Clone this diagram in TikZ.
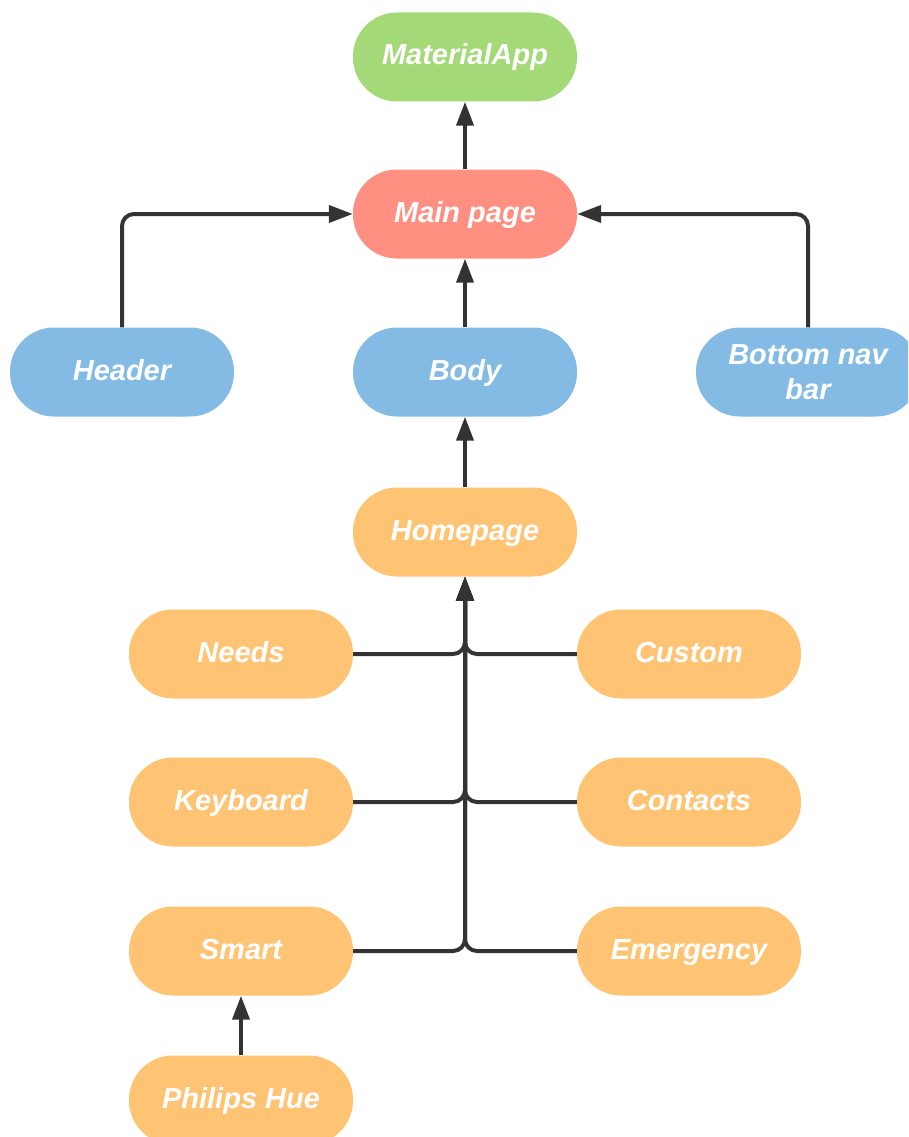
\documentclass[tikz,border=0pt]{standalone}
\usepackage{fontspec}
\setmainfont{Liberation Sans}
\usetikzlibrary{arrows.meta}

\definecolor{appgreen}{RGB}{163,217,119}
\definecolor{pagered}{RGB}{255,143,128}
\definecolor{partblue}{RGB}{131,187,229}
\definecolor{screenorange}{RGB}{255,195,116}
\definecolor{linkgray}{RGB}{51,51,51}

\tikzset{
  pillbase/.style={rectangle, rounded corners=44pt, minimum width=224pt,
    minimum height=89pt, inner sep=0pt, text=white, align=center,
    font=\fontsize{29}{35}\selectfont\bfseries\itshape},
  pill/.style={pillbase, text height=21pt, text depth=5pt},
  link/.style={draw=linkgray, line width=4pt, rounded corners=12pt,
    -{Triangle[length=24pt,width=17pt]}}
}

\begin{document}
\begin{tikzpicture}[x=1pt,y=-1pt]
  \useasboundingbox (0,0) rectangle (908,1137);
  \clip (0,0) rectangle (908,1137);

  % app shell
  \node[pill, fill=appgreen] (app) at (465,57) {MaterialApp};
  \node[pill, fill=pagered] (main) at (465,214) {Main page};

  % page parts
  \node[pill, fill=partblue] (header) at (122,372) {Header};
  \node[pill, fill=partblue] (body) at (465,372) {Body};
  \node[pillbase, fill=partblue] (nav) at (808,372) {Bottom nav\\bar};

  % screens
  \node[pill, fill=screenorange] (home) at (465,532) {Homepage};
  \node[pill, fill=screenorange] (needs) at (241,654) {Needs};
  \node[pill, fill=screenorange] (custom) at (689,654) {Custom};
  \node[pill, fill=screenorange] (keyboard) at (241,802) {Keyboard};
  \node[pill, fill=screenorange] (contacts) at (689,802) {Contacts};
  \node[pill, fill=screenorange] (smart) at (241,951) {Smart};
  \node[pill, fill=screenorange] (emergency) at (689,951) {Emergency};
  \node[pill, fill=screenorange] (hue) at (241,1100) {Philips Hue};

  % connectors
  \draw[link] (main) -- (app);
  \draw[link] (header.north) |- (main.west);
  \draw[link] (nav.north) |- (main.east);
  \draw[link] (body) -- (main);
  \draw[link] (home) -- (body);
  \foreach \n in {needs,keyboard,smart}
    \draw[link] (\n.east) -| (home.south);
  \foreach \n in {custom,contacts,emergency}
    \draw[link] (\n.west) -| (home.south);
  \draw[link] (hue) -- (smart);
\end{tikzpicture}
\end{document}
